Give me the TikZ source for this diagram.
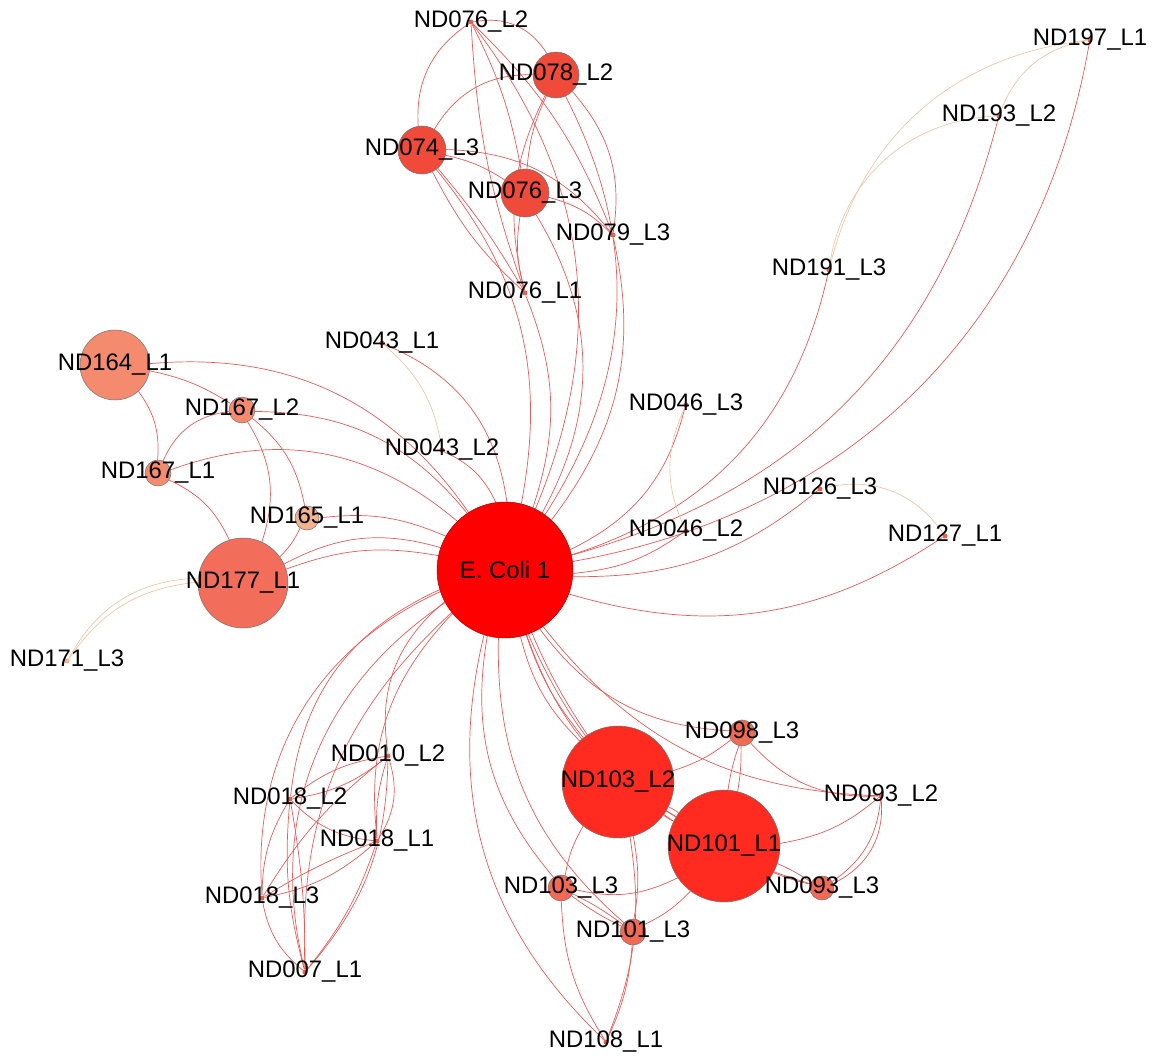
\documentclass[tikz,border=0pt]{standalone}
\usepackage{fontspec}
\setmainfont{Liberation Sans}
\usetikzlibrary{positioning}
\definecolor{hubred}{HTML}{FF0000}
\definecolor{bigred}{HTML}{FF2B20}
\definecolor{midred}{HTML}{F04A3A}
\definecolor{salmon}{HTML}{F26E5A}
\definecolor{smallred}{HTML}{F26A55}
\definecolor{pinksalmon}{HTML}{F48B6F}
\definecolor{peach}{HTML}{F3B38D}
\definecolor{dotred}{HTML}{E8604A}
\definecolor{linkred}{HTML}{E85A5A}
\definecolor{linktan}{HTML}{EFC6A8}
\pgfdeclarelayer{bg}
\pgfsetlayers{bg,main}

\begin{document}
\begin{tikzpicture}[x=0.02cm,y=-0.02cm,
    vtx/.style={circle,draw=black!55,line width=0.3pt,inner sep=0pt,minimum size=#1*0.04cm},
    dotv/.style={circle,fill=dotred,inner sep=0pt,minimum size=0.1cm},
    lbl/.style={font=\fontsize{13.6}{16}\selectfont,inner sep=0pt},
    link/.style={draw=linkred,line width=0.4pt},
    soft/.style={draw=linktan,line width=0.4pt}]
  \useasboundingbox (0,0) rectangle (1156,1057);

  % hub
  \node[vtx=68,fill=hubred,draw=hubred!70!black,label={[lbl]center:E. Coli 1}] (ecoli) at (505,570) {};

  % top cluster
  \node[dotv,label={[lbl]center:ND076\_L2}] (n076b) at (471,22) {};
  \node[vtx=23,fill=midred,label={[lbl]center:ND078\_L2}] (n078b) at (556,75) {};
  \node[vtx=24,fill=midred,label={[lbl]center:ND074\_L3}] (n074c) at (422,150) {};
  \node[vtx=24,fill=midred,label={[lbl]center:ND076\_L3}] (n076c) at (525,193) {};
  \node[dotv,label={[lbl]center:ND079\_L3}] (n079c) at (613,235) {};
  \node[dotv,label={[lbl]center:ND076\_L1}] (n076a) at (525,293) {};
  \node[dotv,label={[lbl]center:ND043\_L1}] (n043a) at (382,343) {};
  \node[dotv,label={[lbl]center:ND043\_L2}] (n043b) at (442,450) {};

  % left cluster
  \node[vtx=35,fill=pinksalmon,label={[lbl]center:ND164\_L1}] (n164a) at (115,365) {};
  \node[vtx=13,fill=pinksalmon,label={[lbl]center:ND167\_L2}] (n167b) at (242,410) {};
  \node[vtx=13,fill=pinksalmon,label={[lbl]center:ND167\_L1}] (n167a) at (158,473) {};
  \node[vtx=12,fill=peach,label={[lbl]center:ND165\_L1}] (n165a) at (307,518) {};
  \node[vtx=45,fill=salmon,label={[lbl]center:ND177\_L1}] (n177a) at (243,583) {};
  \node[dotv,fill=peach,label={[lbl]center:ND171\_L3}] (n171c) at (67,661) {};

  % right side
  \node[dotv,label={[lbl]center:ND046\_L3}] (n046c) at (686,405) {};
  \node[dotv,label={[lbl]center:ND046\_L2}] (n046b) at (686,531) {};
  \node[dotv,label={[lbl]center:ND191\_L3}] (n191c) at (829,270) {};
  \node[dotv,label={[lbl]center:ND193\_L2}] (n193b) at (999,116) {};
  \node[dotv,label={[lbl]center:ND197\_L1}] (n197a) at (1090,40) {};
  \node[dotv,label={[lbl]center:ND126\_L3}] (n126c) at (820,489) {};
  \node[dotv,label={[lbl]center:ND127\_L1}] (n127a) at (945,536) {};

  % bottom left
  \node[dotv,label={[lbl]center:ND010\_L2}] (n010b) at (388,756) {};
  \node[dotv,label={[lbl]center:ND018\_L2}] (n018b) at (290,799) {};
  \node[dotv,label={[lbl]center:ND018\_L1}] (n018a) at (377,841) {};
  \node[dotv,label={[lbl]center:ND018\_L3}] (n018c) at (262,898) {};
  \node[dotv,label={[lbl]center:ND007\_L1}] (n007a) at (305,972) {};

  % bottom right
  \node[vtx=56,fill=bigred,label={[lbl]center:ND103\_L2}] (n103b) at (618,782) {};
  \node[vtx=56,fill=bigred,label={[lbl]center:ND101\_L1}] (n101a) at (724,846) {};
  \node[vtx=13,fill=smallred,label={[lbl]center:ND098\_L3}] (n098c) at (742,733) {};
  \node[dotv,label={[lbl]center:ND093\_L2}] (n093b) at (881,796) {};
  \node[vtx=12,fill=smallred,label={[lbl]center:ND093\_L3}] (n093c) at (822,888) {};
  \node[vtx=13,fill=smallred,label={[lbl]center:ND103\_L3}] (n103c) at (561,888) {};
  \node[vtx=13,fill=smallred,label={[lbl]center:ND101\_L3}] (n101c) at (633,932) {};
  \node[dotv,label={[lbl]center:ND108\_L1}] (n108a) at (606,1042) {};

  \begin{pgfonlayer}{bg}
    % spokes from the hub
    \path[link] (ecoli)
      edge[bend right=30] (n076b) edge[bend right=30] (n078b)
      edge[bend right=25] (n074c) edge[bend right=30] (n076c)
      edge[bend right=25] (n079c) edge[bend right=20] (n076a)
      edge[bend right=30] (n043a) edge[bend right=20] (n043b)
      edge[bend right=30] (n164a) edge[bend right=25] (n167b)
      edge[bend right=30] (n167a) edge[bend right=15] (n165a)
      edge[bend right=15] (n177a) edge[bend right=22] (n177a)
      edge[bend right=25] (n046c) edge[bend right=15] (n046b)
      edge[bend right=30] (n191c) edge[bend right=30] (n193b)
      edge[bend right=35] (n197a) edge[bend right=20] (n126c)
      edge[bend right=25] (n127a)
      edge[bend right=30] (n010b) edge[bend right=30] (n018b)
      edge[bend right=25] (n018a) edge[bend right=35] (n018c)
      edge[bend right=35] (n007a) edge[bend right=25] (n007a)
      edge[bend right=5] (n103b) edge[bend right=10] (n103b)
      edge[bend right=15] (n103b) edge[bend right=20] (n101a)
      edge[bend right=25] (n098c) edge[bend right=25] (n093b)
      edge[bend right=25] (n093c) edge[bend right=25] (n103c)
      edge[bend right=25] (n101c) edge[bend right=30] (n108a);

    % top cluster
    \path[link] (n076b) edge[bend right=30] (n074c) edge[bend right=8] (n076a)
      edge[bend left=12] (n079c) edge[bend left=8] (n076c);
    \path[link] (n078b) edge[bend right=35] (n076b) edge[bend right=20] (n076a)
      edge[bend left=25] (n079c) edge[bend right=10] (n076c);
    \path[link] (n074c) edge[bend left=30] (n078b) edge[bend left=25] (n079c)
      edge[bend left=10] (n076c) edge[bend right=10] (n076a) edge[bend left=5] (n076a);
    \path[link] (n076c) edge[bend left=15] (n079c) edge[bend right=12] (n076a);
    \path[soft] (n043a) edge[bend left=20] (n043b);

    % left cluster
    \path[link] (n164a) edge[bend left=10] (n167b) edge[bend left=20] (n167a);
    \path[link] (n167b) edge[bend right=30] (n167a) edge[bend left=25] (n177a)
      edge[bend left=20] (n165a);
    \path[link] (n167a) edge[bend left=20] (n177a);
    \path[link] (n165a) edge[bend left=10] (n177a);
    \path[soft] (n177a) edge[bend right=25] (n171c) edge[bend right=30] (n171c);

    % right side
    \path[soft] (n046c) edge[bend right=25] (n046b);
    \path[soft] (n191c) edge[bend left=40] (n193b) edge[bend left=35] (n197a);
    \path[soft] (n193b) edge[bend left=30] (n197a);
    \path[soft] (n126c) edge[bend left=35] (n127a);

    % bottom left
    \path[link] (n010b) edge[bend left=15] (n018b) edge[bend right=15] (n018b)
      edge[bend left=25] (n018a) edge[bend right=10] (n018a)
      edge[bend right=10] (n018c) edge[bend left=20] (n007a);
    \path[link] (n018b) edge[bend right=20] (n018a) edge[bend right=15] (n018c)
      edge[bend left=5] (n007a) edge[bend right=10] (n007a);
    \path[link] (n018a) edge[bend left=15] (n018c) edge[bend right=5] (n018c)
      edge[bend left=10] (n007a);
    \path[link] (n018c) edge[bend right=20] (n007a);

    % bottom right
    \path[link] (n103b) edge[bend left=5] (n101a) edge (n101a) edge[bend right=5] (n101a);
    \path[link] (n098c) edge[bend left=10] (n103b) edge[bend right=5] (n101a)
      edge[bend left=5] (n101a) edge[bend right=25] (n093b);
    \path[link] (n093b) edge[bend left=15] (n101a) edge[bend left=25] (n093c)
      edge[bend left=35] (n093c);
    \path[link] (n101a) edge[bend left=5] (n093c) edge[bend right=5] (n093c)
      edge[bend left=20] (n103c) edge[bend left=10] (n101c);
    \path[link] (n103b) edge[bend right=10] (n103c) edge[bend left=10] (n101c)
      edge[bend left=15] (n108a);
    \path[link] (n103c) edge[bend right=5] (n101c) edge[bend left=5] (n101c)
      edge[bend right=15] (n108a);
    \path[link] (n101c) edge[bend left=10] (n108a);
  \end{pgfonlayer}
\end{tikzpicture}
\end{document}
